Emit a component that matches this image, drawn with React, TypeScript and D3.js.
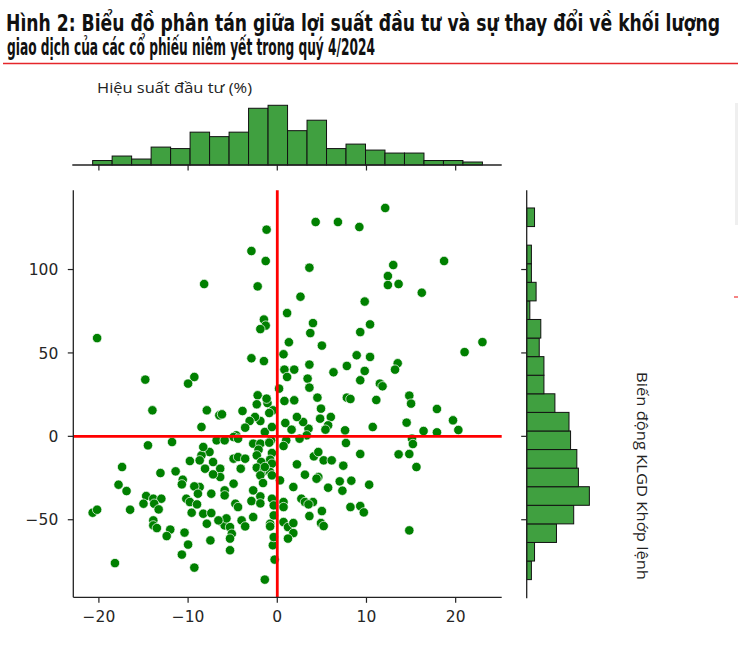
import React from 'react';
import * as d3 from 'd3';

const width = 738;
const height = 666;

const titleLines = [
  'Hình 2: Biểu đồ phân tán giữa lợi suất đầu tư và sự thay đổi về khối lượng',
  'giao dịch của các cổ phiếu niêm yết trong quý 4/2024',
];
const xLabel = 'Hiệu suất đầu tư (%)';
const yLabel = 'Biến động KLGD Khớp lệnh';

const xTicks = [-20, -10, 0, 10, 20];
const yTicks = [-50, 0, 50, 100];

// counts of the marginal histograms
const topCounts = [3, 6, 4, 12, 11, 22, 19, 22, 38, 40, 23, 30, 11, 14, 10, 8, 8, 3, 3, 2];
// from the lowest bin up
const rightCounts = [3, 5, 19, 30, 40, 33, 32, 28, 27, 18, 11, 11, 8, 9, 2, 6, 3, 3, 0, 5];

// [return %, change in matched volume %]
const points: [number, number][] = [
  [-1.2, 123.9], [-2.9, 111.1], [-1.3, 105.1], [-8.2, 91.3], [-2.2, 89.9], [1.1, 73.9], [-1.5, 70.0],
  [-1.3, 66.4], [-1.9, 64.3], [1.3, 56.4], [-20.2, 58.9], [-2.9, 46.8], [-1.5, 45.1], [0.7, 49.2],
  [0.8, 40.0], [1.1, 35.6], [-14.8, 34.0], [4.3, 128.5], [6.8, 128.5], [9.2, 125.5], [3.6, 101.1],
  [2.6, 83.7], [4.0, 67.9], [3.7, 61.9], [9.3, 62.5], [5.0, 54.4], [8.9, 48.6], [7.8, 42.2],
  [6.3, 38.4], [3.6, 43.0], [1.9, 40.0], [3.4, 34.6], [9.3, 33.6], [12.1, 136.9], [13.0, 102.7],
  [18.7, 105.1], [12.4, 96.1], [12.4, 90.7], [13.6, 91.3], [16.2, 86.1], [9.8, 80.8], [10.4, 67.1],
  [23.0, 56.5], [21.0, 50.5], [10.4, 47.6], [13.5, 43.8], [13.2, 40.0], [9.8, 39.2], [11.5, 31.6],
  [11.8, 30.0], [-9.3, 35.6], [-10.0, 31.6],
  [-2.2, 24.6], [0.2, 28.6], [-2.3, 19.2], [-1.1, 20.0], [0.8, 21.2], [-14.0, 15.6], [-7.9, 15.6],
  [-3.9, 15.2], [3.6, 29.2], [-1.2, 22.6], [1.9, 21.6], [4.5, 23.2], [7.8, 23.2], [8.2, 22.4],
  [11.1, 21.8], [14.8, 24.4], [15.0, 19.6], [17.9, 16.4], [10.7, 5.6], [14.5, 8.2], [19.7, 9.6],
  [16.4, 3.2], [17.9, 2.4], [20.3, 3.8], [7.6, 3.6], [4.9, 16.6], [6.0, 11.6], [4.8, 10.6],
  [5.7, 6.6], [5.4, 4.0], [3.5, 4.6], [2.9, 8.6], [2.2, 11.6], [0.9, 8.0], [1.6, 4.0], [3.3, 0.6],
  [-0.5, 15.6], [-0.9, 14.0], [-1.9, 9.2], [-2.5, 11.6], [-3.1, 9.2], [-3.6, 5.2], [-1.4, 2.6],
  [-0.6, 5.6], [-6.5, 12.6], [-6.2, 13.2], [-8.5, 5.6], [-4.6, 0.6], [-4.9, -0.4],
  [15.1, -1.4], [2.5, -1.4], [7.7, -4.0], [15.2, -4.6], [9.3, -10.6], [13.6, -10.8], [14.8, -10.6],
  [15.6, -18.4], [7.4, -17.6], [7.0, -27.0], [8.3, -26.6], [7.3, -32.6], [10.3, -29.0], [8.2, -42.4],
  [9.3, -41.8], [9.7, -45.6], [14.8, -56.4], [-6.8, -2.4], [-5.9, -2.4], [-4.4, -1.4], [-2.7, -4.4],
  [-1.9, -4.4], [-0.7, -2.4], [-0.9, -3.8], [1.0, -2.4], [0.7, -5.8], [-2.1, -8.0], [-0.6, -10.0],
  [-7.6, -9.4], [-8.5, -11.4], [-4.9, -13.4], [-4.4, -12.4], [-3.6, -13.4], [-7.2, -15.4],
  [-2.3, -11.4], [-0.8, -14.0], [-0.6, -16.4], [-1.8, -15.4], [-2.3, -18.8], [-1.5, -20.8],
  [-0.8, -21.4], [-0.6, -23.4], [-1.9, -23.4], [-4.1, -19.4], [-8.1, -19.4], [-6.4, -19.4],
  [-6.4, -24.4], [-7.2, -22.8], [-8.7, -14.4], [2.2, -16.8], [4.1, -12.0], [4.6, -9.4], [5.2, -14.4],
  [6.1, -14.4], [3.1, -23.0], [4.6, -24.4], [4.4, -25.4], [5.7, -30.8], [1.8, -30.4], [0.3, -26.4],
  [-1.6, -28.0], [-2.7, -32.4], [-1.9, -36.0], [-2.9, -38.8], [-0.6, -37.4], [-0.4, -41.4],
  [0.7, -39.4], [0.7, -42.4], [2.7, -37.4], [3.1, -39.4], [4.0, -39.4], [3.5, -40.8], [3.6, -47.8],
  [5.0, -44.8], [4.9, -52.0], [5.2, -53.8], [-4.9, -28.4], [-5.9, -32.4], [-5.9, -35.4], [-7.4, -34.4],
  [-8.7, -30.4], [-4.7, -40.4], [-4.4, -42.4], [-8.3, -46.4], [-7.4, -46.0], [-7.9, -52.4],
  [-6.2, -51.4], [-5.9, -53.4], [-5.3, -54.4], [-5.1, -58.4], [-4.0, -50.4], [-3.6, -54.0],
  [-2.7, -48.4], [-0.8, -52.4], [-0.4, -47.4], [0.7, -51.4], [1.2, -54.4], [1.8, -52.0], [1.8, -58.0],
  [1.2, -61.3], [-7.5, -62.4], [-5.3, -68.3], [-0.5, -65.3], [-0.3, -73.9], [-1.4, -85.9],
  [-14.5, -5.4], [-11.8, -3.4], [-8.3, -6.4], [-17.4, -18.4], [-13.1, -22.0], [-11.4, -21.0],
  [-10.6, -26.0], [-10.7, -28.8], [-9.8, -14.8], [-17.8, -29.0], [-16.9, -32.8], [-9.3, -30.0],
  [-8.9, -34.4], [-14.7, -35.8], [-13.9, -37.4], [-13.0, -37.4], [-15.0, -40.4], [-13.8, -40.4],
  [-13.3, -43.8], [-10.2, -37.4], [-9.8, -39.4], [-9.0, -40.8], [-9.6, -45.8], [-20.7, -45.8],
  [-20.2, -44.0], [-16.5, -44.0], [-13.9, -50.4], [-13.9, -53.4], [-13.5, -55.0], [-12.0, -55.9],
  [-12.4, -59.8], [-10.4, -57.7], [-10.0, -64.9], [-10.7, -70.9], [-18.2, -76.0], [-9.3, -78.7],
  [-1.4, -18.4], [-1.9, -40.2], [-5.7, -49.2], [-6.6, -50.4], [-0.8, -54.0], [-5.3, -61.3],
  [-0.4, -60.4],
];

const left = 73.3;
const right = 501.7;
const top = 190.3;
const bottom = 597.3;
const topBase = 165;
const rightBase = 526.7;

const x = d3.scaleLinear().domain([-22.87, 25.16]).range([left, right]);
const y = d3.scaleLinear().domain([-96.5, 147.5]).range([bottom, top]);

const topCount = d3.scaleLinear().domain([0, d3.max(topCounts)! * 1.05]).range([topBase, topBase - 62.7]);
const rightCount = d3.scaleLinear().domain([0, d3.max(rightCounts)! * 1.05]).range([rightBase, rightBase + 65.8]);

// bins span the data range like seaborn does
const [xMin, xMax] = d3.extent(points, d => d[0]) as [number, number];
const [yMin, yMax] = d3.extent(points, d => d[1]) as [number, number];
const xStep = (xMax - xMin) / topCounts.length;
const yStep = (yMax - yMin) / rightCounts.length;

const green = '#008000';
const barFill = '#40a040';
const ink = '#262626';
const tickFont = { fontFamily: 'DejaVu Sans', fontSize: 15.5, fill: ink };
const tickLen = 5.5;
// smaller font stretched vertically, so the natural width fits the page
const titleFont = {
  fontFamily: "'DejaVu Sans Condensed', 'Liberation Sans', 'Noto Sans', sans-serif",
  fontStretch: 'condensed',
  fontWeight: 'bold',
  fontSize: 19,
  fill: '#111',
};

const fmt = (v: number) => (v < 0 ? `\u2212${Math.abs(v)}` : `${v}`);

export default function App() {
  return (
    <svg width={width} height={height} style={{ position: 'absolute', left: 0, top: 0, background: '#fff' }}>
      <rect width={width} height={height} fill='#fff' />

      {titleLines.map((t, i) => (
        <g key={i} transform={`translate(${i === 0 ? 6 : 7}, ${i === 0 ? 31 : 55}) scale(1, 1.2)`}>
          <text
            x={0}
            y={0}
            textLength={i === 0 ? 714 : 368}
            lengthAdjust='spacingAndGlyphs'
            style={titleFont}
          >
            {t}
          </text>
        </g>
      ))}
      <line x1={3} x2={738} y1={63.5} y2={63.5} stroke='#e5262b' strokeWidth={1.6} />

      {/* small marks at the right border of the source image */}
      <rect x={735} y={103} width={3} height={122} fill='#efefef' />
      <line x1={734} x2={738} y1={297} y2={297} stroke='#e33' strokeWidth={1.2} />

      <text x={97} y={93} textLength={155} lengthAdjust='spacingAndGlyphs'
        style={{ fontFamily: 'Open Sans', fontSize: 15, fill: '#222' }}>
        {xLabel}
      </text>
      <text transform={`translate(637, 476) rotate(90)`} textAnchor='middle' textLength={208}
        lengthAdjust='spacingAndGlyphs' style={{ fontFamily: 'Open Sans', fontSize: 15, fill: '#222' }}>
        {yLabel}
      </text>

      {/* top marginal histogram */}
      <g>
        {topCounts.map((c, i) => {
          const x0 = x(xMin + i * xStep);
          const x1 = x(xMin + (i + 1) * xStep);
          return (
            <rect key={i} x={x0} y={topCount(c)} width={x1 - x0} height={topBase - topCount(c)}
              fill={barFill} stroke='#111' strokeWidth={1} />
          );
        })}
        <line x1={left - 1} x2={right} y1={topBase} y2={topBase} stroke='#222' strokeWidth={1.3} />
        {xTicks.map(t => (
          <line key={t} x1={x(t)} x2={x(t)} y1={topBase} y2={topBase + tickLen} stroke='#222' strokeWidth={1.2} />
        ))}
      </g>

      {/* right marginal histogram */}
      <g>
        {rightCounts.map((c, i) => {
          const y0 = y(yMin + (i + 1) * yStep);
          const y1 = y(yMin + i * yStep);
          return (
            <rect key={i} x={rightBase} y={y0} width={rightCount(c) - rightBase} height={y1 - y0}
              fill={barFill} stroke='#111' strokeWidth={1} />
          );
        })}
        <line x1={rightBase} x2={rightBase} y1={top} y2={bottom + 1} stroke='#222' strokeWidth={1.3} />
        {yTicks.map(t => (
          <line key={t} x1={rightBase - tickLen} x2={rightBase} y1={y(t)} y2={y(t)} stroke='#222' strokeWidth={1.2} />
        ))}
      </g>

      {/* joint scatter */}
      <g>
        {points.map((p, i) => (
          <circle key={i} cx={x(p[0])} cy={y(p[1])} r={4.7} fill={green} stroke='#fff' strokeWidth={0.7} />
        ))}
        <line x1={x(0)} x2={x(0)} y1={top} y2={bottom} stroke='red' strokeWidth={2.8} />
        <line x1={left} x2={right} y1={y(0)} y2={y(0)} stroke='red' strokeWidth={2.8} />
      </g>

      {/* axes */}
      <line x1={left} x2={left} y1={top} y2={bottom} stroke='#222' strokeWidth={1.3} />
      <line x1={left} x2={right} y1={bottom} y2={bottom} stroke='#222' strokeWidth={1.3} />
      {xTicks.map(t => (
        <g key={t}>
          <line x1={x(t)} x2={x(t)} y1={bottom} y2={bottom + tickLen} stroke='#222' strokeWidth={1.2} />
          <text x={x(t)} y={bottom + 25} textAnchor='middle' style={tickFont}>{fmt(t)}</text>
        </g>
      ))}
      {yTicks.map(t => (
        <g key={t}>
          <line x1={left - tickLen} x2={left} y1={y(t)} y2={y(t)} stroke='#222' strokeWidth={1.2} />
          <text x={left - 15} y={y(t)} dy='0.36em' textAnchor='end' style={tickFont}>{fmt(t)}</text>
        </g>
      ))}
    </svg>
  );
}
